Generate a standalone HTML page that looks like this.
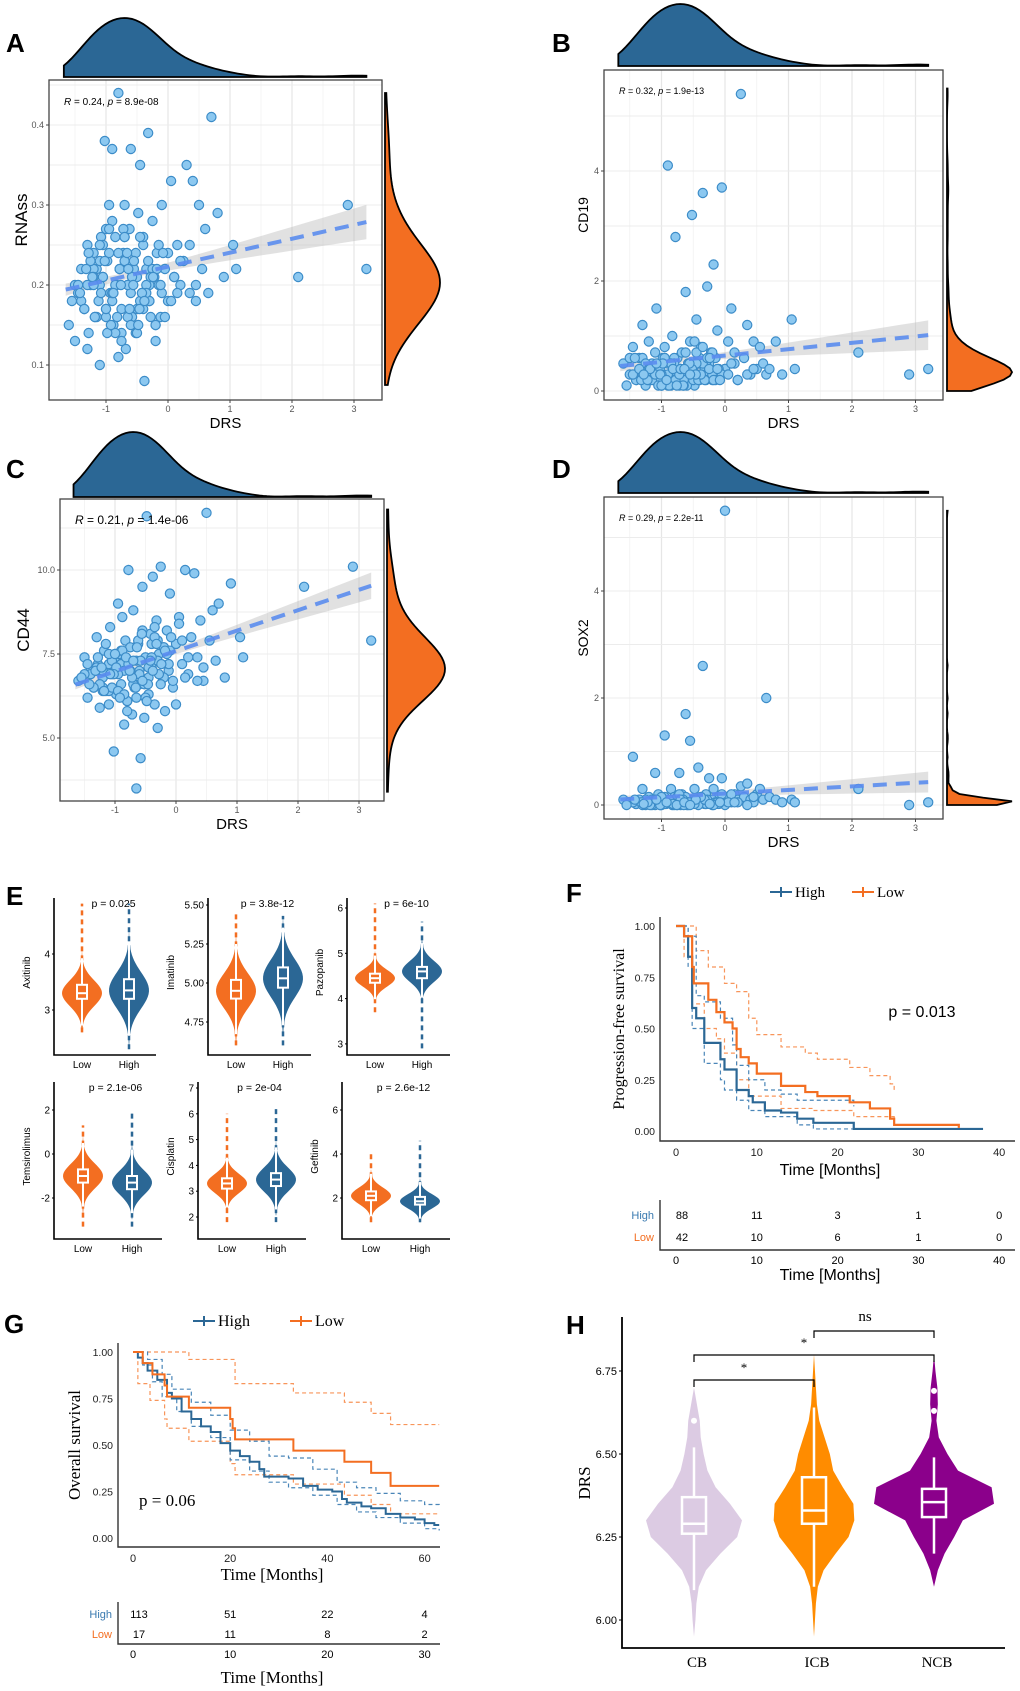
<!DOCTYPE html>
<html><head><meta charset="utf-8"><style>
html,body{margin:0;padding:0;background:#fff;}
svg{display:block;font-family:"Liberation Sans",sans-serif;}
.serif{font-family:"Liberation Serif",serif;}
</style></head><body>
<svg id="fig" width="1020" height="1691" viewBox="0 0 1020 1691"></svg>
<script>
// ---------- DATA ----------
const drsBase=[-1.6,-1.5,-1.45,-1.4,-1.35,-1.3,-1.28,-1.25,-1.2,-1.18,
-1.15,-1.12,-1.1,-1.08,-1.05,-1.02,-1.0,-0.98,-0.95,-0.93,
-0.9,-0.88,-0.85,-0.83,-0.8,-0.78,-0.75,-0.72,-0.7,-0.68,
-0.65,-0.62,-0.6,-0.58,-0.55,-0.52,-0.5,-0.48,-0.45,-0.42,
-0.4,-0.38,-0.35,-0.32,-0.3,-0.28,-0.25,-0.22,-0.2,-0.18,
-0.15,-0.12,-0.1,-0.05,0.0,0.05,0.1,0.15,0.2,0.25,
0.3,0.35,0.4,0.45,0.5,0.55,0.6,0.65,0.7,0.8,
0.9,1.05,1.1,2.1,2.9,3.2,-1.3,-1.1,-0.9,-0.7,
-0.5,-0.3,-1.0,-0.8,-0.6,-0.4,-1.2,-0.2,0.0,-0.9,
-1.4,-1.2,-1.0,-0.8,-0.6,-0.4,-0.2,-1.1,-0.7,-0.3,
-1.3,-0.9,-0.5,-0.1,-1.5,-0.75,-0.35,-1.05,-0.65,-0.25];
const drsExtra=[-1.45,-1.25,-1.15,-0.95,-0.85,-0.55,-0.45,-0.15,0.1,-0.6,
-1.35,-1.05,-0.95,-0.75,-0.65,-0.45,-0.35,-0.05,0.2,-1.2,
-1.55,-1.1,-0.85,-0.78,-0.62,-0.52,-0.42,-0.28,0.05,-0.98,
-1.32,-1.18,-0.88,-0.72,-0.58,-0.48,-0.32,-0.12,0.35,-1.0,
-1.42,-1.22,-1.02,-0.82,-0.66,-0.56,-0.38,-0.18,0.15,-0.7,
-1.28,-1.08,-0.92,-0.76,-0.64,-0.46,-0.24,-0.08,0.45,-0.55];
const rnassBase=[0.15,0.13,0.19,0.22,0.17,0.25,0.14,0.2,0.24,0.16,
0.22,0.18,0.1,0.26,0.21,0.38,0.17,0.23,0.3,0.19,
0.37,0.15,0.26,0.2,0.44,0.22,0.17,0.24,0.3,0.12,
0.2,0.27,0.37,0.16,0.23,0.14,0.21,0.29,0.35,0.19,
0.25,0.08,0.22,0.39,0.18,0.16,0.28,0.21,0.13,0.24,
0.2,0.16,0.3,0.22,0.18,0.33,0.21,0.25,0.2,0.23,
0.35,0.19,0.33,0.18,0.3,0.22,0.27,0.19,0.41,0.29,
0.21,0.25,0.22,0.21,0.3,0.22,0.2,0.23,0.18,0.26,
0.14,0.2,0.27,0.11,0.2,0.17,0.22,0.15,0.24,0.19,
0.18,0.21,0.16,0.24,0.19,0.26,0.15,0.2,0.23,0.18,
0.12,0.28,0.17,0.19,0.2,0.14,0.2,0.25,0.16,0.22];
const rnassExtra=[0.2,0.23,0.16,0.27,0.14,0.22,0.18,0.25,0.21,0.15,
0.17,0.21,0.24,0.13,0.2,0.26,0.19,0.16,0.23,0.2,
0.18,0.25,0.2,0.22,0.17,0.24,0.19,0.21,0.18,0.14,
0.22,0.16,0.19,0.27,0.21,0.15,0.23,0.2,0.25,0.17,
0.19,0.21,0.23,0.16,0.24,0.2,0.18,0.22,0.19,0.26,
0.24,0.19,0.15,0.2,0.22,0.17,0.21,0.24,0.2,0.23];
const cd19Base=[0.5,0.3,0.8,0.2,0.6,1.2,0.4,0.1,0.9,0.3,
0.5,0.2,0.7,1.5,0.3,0.4,0.1,0.6,0.8,0.2,
4.1,0.3,0.5,1.0,0.2,2.8,0.6,0.1,0.4,0.7,
0.3,1.8,0.2,0.5,0.9,3.2,0.4,0.1,1.3,0.6,
0.2,0.8,3.6,0.4,0.3,1.9,0.5,0.7,0.2,2.3,
0.6,1.1,0.3,3.7,0.4,0.9,1.5,0.5,0.2,5.4,
0.6,1.2,0.3,0.9,0.4,0.8,0.5,0.3,0.4,0.9,
0.3,1.3,0.4,0.7,0.3,0.4,0.6,0.2,0.5,0.3,
0.4,0.2,0.1,0.6,0.3,0.5,0.2,0.7,0.4,0.3,
0.2,0.4,0.3,0.5,0.1,0.6,0.3,0.2,0.4,0.5,
0.3,0.1,0.2,0.4,0.6,0.3,0.5,0.2,0.1,0.4];
const cd19Extra=[0.3,0.5,0.2,0.6,0.1,0.4,0.7,0.2,0.5,0.3,
0.4,0.1,0.6,0.3,0.2,0.5,0.8,0.3,0.2,0.4,
0.1,0.3,0.5,0.2,0.7,0.4,0.2,0.6,0.3,0.5,
0.2,0.4,0.1,0.3,0.5,0.9,0.2,0.4,0.3,0.1,
0.6,0.2,0.3,0.4,0.1,0.5,0.3,0.2,0.7,0.4,
0.3,0.5,0.2,0.1,0.4,0.3,0.6,0.2,0.4,0.3];
const cd44Base=[6.7,7.4,6.2,7.0,6.5,8.0,7.2,5.9,6.8,7.6,
6.4,7.1,6.0,8.3,6.9,4.6,7.3,6.3,9.0,7.5,
6.6,8.6,5.4,7.9,6.1,10.0,7.0,5.7,8.8,6.5,
3.5,7.8,6.9,4.4,9.5,5.6,7.4,11.6,6.3,8.1,
7.1,9.8,6.0,8.5,5.3,7.5,10.1,6.8,7.7,5.8,
8.2,7.0,9.3,6.5,7.8,8.6,7.2,10.0,6.9,8.0,
9.9,7.4,8.5,6.7,11.7,7.9,8.8,7.3,9.0,6.8,
9.6,8.0,7.4,9.5,10.1,7.9,7.0,6.4,7.6,6.9,
6.2,7.3,7.1,5.8,6.6,7.8,6.5,7.7,6.0,7.2,
6.9,6.4,7.5,6.1,7.0,7.4,6.8,7.2,6.6,7.9,
7.1,6.3,6.7,7.6,6.9,7.0,8.3,6.5,7.3,6.6];
const cd44Extra=[7.2,6.6,7.8,6.4,7.0,8.2,6.8,7.5,7.9,6.9,
6.5,7.3,6.9,7.7,6.2,7.1,8.0,6.7,7.4,7.0,
6.8,7.5,6.3,7.2,7.9,6.6,7.3,6.9,8.4,7.1,
7.0,6.4,7.6,6.8,7.3,6.1,7.8,7.2,6.7,7.5,
6.6,7.1,6.9,7.4,6.5,8.1,7.0,7.6,6.8,7.3,
7.4,6.9,6.2,7.0,7.7,6.6,7.2,8.0,7.1,6.7];
const sox2Base=[0.1,0.05,0.9,0.02,0.1,0.3,0.05,0.0,0.15,0.05,
0.1,0.02,0.6,0.05,0.2,0.0,0.1,0.05,1.3,0.02,
0.1,0.05,0.3,0.0,0.15,0.05,0.1,0.6,0.02,0.2,
0.05,1.7,0.1,0.0,1.2,0.05,0.1,0.3,0.02,0.7,
0.05,0.1,2.6,0.02,0.2,0.05,0.5,0.1,0.0,0.3,
0.1,0.05,0.15,0.5,5.5,0.1,0.05,0.2,0.1,0.35,
0.15,0.4,0.1,0.05,0.2,0.3,0.1,2.0,0.15,0.1,
0.05,0.1,0.05,0.3,0.0,0.05,0.02,0.1,0.05,0.0,
0.05,0.02,0.1,0.0,0.05,0.1,0.02,0.05,0.0,0.1,
0.02,0.05,0.0,0.1,0.05,0.02,0.1,0.0,0.05,0.02,
0.0,0.05,0.1,0.02,0.05,0.0,0.1,0.05,0.02,0.05];
const sox2Extra=[0.05,0.1,0.0,0.15,0.05,0.02,0.1,0.05,0.2,0.0,
0.1,0.05,0.02,0.15,0.0,0.05,0.1,0.2,0.05,0.02,
0.0,0.1,0.05,0.02,0.15,0.05,0.0,0.1,0.05,0.1,
0.05,0.0,0.1,0.2,0.05,0.02,0.1,0.05,0.0,0.15,
0.1,0.05,0.0,0.02,0.1,0.05,0.15,0.0,0.05,0.1,
0.02,0.1,0.05,0.0,0.05,0.1,0.02,0.05,0.15,0.0];
const drs=drsBase.concat(drsExtra);
const rnass=rnassBase.concat(rnassExtra);
const cd19=cd19Base.concat(cd19Extra);
const cd44=cd44Base.concat(cd44Extra);
const sox2=sox2Base.concat(sox2Extra);
const drsTicks=[-1,0,1,2,3];
const rnassTicks=[0.1,0.2,0.3,0.4];
const cd19Ticks=[0,2,4];
const cd44Ticks=[5.0,7.5,10.0];
const sox2Ticks=[0,2,4];
const corrLabels=["R = 0.24, p = 8.9e-08","R = 0.32, p = 1.9e-13","R = 0.21, p = 1.4e-06","R = 0.29, p = 2.2e-11"];

// Panel E drug sensitivity: [median,q1,q3,min,max] for Low and High
const drugNames=["Axitinib","Imatinib","Pazopanib","Temsirolimus","Cisplatin","Geftinib"];
const drugP=["p = 0.025","p = 3.8e-12","p = 6e-10","p = 2.1e-06","p = 2e-04","p = 2.6e-12"];
const drugLow=[[3.3,3.2,3.45,2.6,4.9],[4.95,4.9,5.02,4.6,5.45],[4.45,4.35,4.55,3.7,6.1],[-1.0,-1.3,-0.7,-3.3,1.3],[3.3,3.1,3.5,1.8,6.0],[2.1,1.9,2.3,0.9,4.0]];
const drugHigh=[[3.35,3.2,3.55,2.3,4.9],[5.03,4.97,5.1,4.6,5.43],[4.6,4.45,4.7,2.9,5.7],[-1.3,-1.6,-1.0,-3.3,2.0],[3.45,3.2,3.7,1.8,6.3],[1.85,1.7,2.05,0.9,4.6]];
const drugTicks=[[3,4],[4.75,5.00,5.25,5.50],[3,4,5,6],[-2,0,2],[2,3,4,5,6,7],[2,4,6]];
const drugTickLabels=[["3","4"],["4.75","5.00","5.25","5.50"],["3","4","5","6"],["-2","0","2"],["2","3","4","5","6","7"],["2","4","6"]];

// Panel F KM (time, survival)
const fHighT=[0,1,1.5,2,2.5,3.5,5.5,6,7.5,9,9.5,11,13,15,17,22,38];
const fHighS=[1,0.95,0.85,0.6,0.55,0.43,0.35,0.3,0.2,0.17,0.14,0.1,0.09,0.06,0.04,0.01,0.01];
const fLowT=[0,1,2,2.2,4,5,6,7,7.5,8,9,10,13,16,17.5,21.5,24,26.5,27,35];
const fLowS=[1,0.95,0.8,0.72,0.64,0.58,0.53,0.5,0.4,0.36,0.33,0.28,0.22,0.19,0.17,0.14,0.11,0.06,0.03,0.015];
const fLowUpT=[0,1.5,2.5,4,6,7.5,9,10,13,16,17.5,21.5,24,26.5,27];
const fLowUpS=[1,1,0.88,0.8,0.72,0.68,0.55,0.47,0.41,0.38,0.35,0.31,0.27,0.23,0.2];
const fLowLoT=[0,1,2,3.5,5,6,7.5,9,13,17,22,27];
const fLowLoS=[1,0.85,0.62,0.5,0.45,0.38,0.25,0.17,0.11,0.1,0.07,0.03];
const fHighUpT=[0,1.5,2.5,3.5,5.5,7,7.5,9,11,13,15,22];
const fHighUpS=[1,0.95,0.66,0.63,0.55,0.42,0.32,0.25,0.2,0.18,0.15,0.12];
const fHighLoT=[0,1.5,2,3.5,5.5,6,7.5,9,11,15,17,22];
const fHighLoS=[1,0.8,0.5,0.33,0.25,0.2,0.15,0.1,0.07,0.03,0.01,0.01];
const fRiskHigh=["88","11","3","1","0"];
const fRiskLow=["42","10","6","1","0"];
const fTicks=[0,10,20,30,40];
const survTicks=[0,0.25,0.5,0.75,1];
const survTickLabels=["0.00","0.25","0.50","0.75","1.00"];

// Panel G KM
const gHighT=[0,1,2,3,5,7,8,10,12,14,16,18,20,22,24,26,27,32,35,38,41,43,44,47,49,52,55,58,60,62,63];
const gHighS=[1,0.97,0.94,0.9,0.85,0.78,0.75,0.68,0.64,0.6,0.57,0.51,0.47,0.44,0.41,0.37,0.33,0.32,0.28,0.26,0.25,0.21,0.19,0.17,0.16,0.13,0.11,0.1,0.08,0.07,0.07];
const gLowT=[0,2,4,6.5,7,11.5,20,20.5,21,33,43.5,49,53,63];
const gLowS=[1,0.94,0.88,0.82,0.76,0.7,0.64,0.59,0.53,0.47,0.41,0.35,0.28,0.28];
const gLowUpT=[0,11.5,20,21,33,43.5,49,53,63];
const gLowUpS=[1,0.96,0.96,0.83,0.78,0.73,0.67,0.61,0.61];
const gLowLoT=[0,1,3.5,6.5,7,11.5,20,21,33,43.5,49,53,63];
const gLowLoS=[1,0.83,0.74,0.64,0.59,0.52,0.4,0.34,0.29,0.23,0.18,0.13,0.13];
const gHighUpT=[0,3,6,8,12,16,20,24,28,32,37,42,46,50,55,60,63];
const gHighUpS=[1,0.96,0.88,0.8,0.73,0.66,0.58,0.52,0.44,0.43,0.37,0.3,0.27,0.24,0.2,0.18,0.17];
const gHighLoT=[0,2,4,6,9,12,16,20,24,28,32,37,42,46,50,55,60,63];
const gHighLoS=[1,0.93,0.84,0.76,0.68,0.6,0.54,0.42,0.36,0.3,0.27,0.23,0.18,0.14,0.11,0.08,0.05,0.04];
const gRiskHigh=["113","51","22","4"];
const gRiskLow=["17","11","8","2"];
const gTicks=[0,20,40,60];
const gRiskTicks=[0,10,20,30];

// Panel H violins
const hGroups=["CB","ICB","NCB"];
const hColors=["#dccbe3","#ff8c00","#8b008b"];
const hLevels=[5.95,6.0,6.05,6.1,6.15,6.2,6.25,6.3,6.35,6.4,6.45,6.5,6.55,6.6,6.65,6.7,6.75,6.8];
const hDensCB=[0,0.03,0.05,0.1,0.25,0.55,0.9,1.0,0.75,0.45,0.28,0.2,0.14,0.12,0.06,0.0,0,0];
const hDensICB=[0,0.02,0.04,0.08,0.2,0.45,0.72,0.84,0.82,0.6,0.4,0.33,0.22,0.11,0.06,0.04,0.02,0];
const hDensNCB=[0,0,0,0,0.08,0.22,0.42,0.6,1.25,1.2,0.5,0.28,0.1,0.05,0.08,0.07,0.03,0];
const hBoxes=[[6.29,6.26,6.37,6.09,6.52],[6.33,6.29,6.43,6.1,6.64],[6.355,6.31,6.395,6.2,6.49]];
const hOutliers=[[6.6],[],[6.63,6.69]];
const hTicks=[6.0,6.25,6.5,6.75];
const hTickLabels=["6.00","6.25","6.50","6.75"];

// ---------- DRAWING ----------
const NS='http://www.w3.org/2000/svg';
const svg=document.getElementById('fig');
function mk(tag,a,p){const e=document.createElementNS(NS,tag);for(const k in a)e.setAttribute(k,a[k]);(p||svg).appendChild(e);return e;}
function txt(s,a,p){const e=mk('text',a,p);e.textContent=s;return e;}
const BLUE='#2b6795',ORANGE='#f36e21';

function letter(s,x,y){const t=txt(s,{x:x,y:y,'font-size':26,'font-weight':'bold'});

}

function kde(arr,bw,v){let s=0;for(const a of arr){const z=(v-a)/bw;s+=Math.exp(-0.5*z*z);}return s;}

function scatterPanel(cfg){
  const g=mk('g',{});
  
  
  const X=v=>cfg.x0+v*cfg.xu, Y=v=>cfg.y0-(v-cfg.yref)*cfg.yu;
  const b=cfg.box;
  const bg=mk('rect',{x:b[0],y:b[1],width:b[2]-b[0],height:b[3]-b[1],fill:'#fff'},g);
  
  
  for(let v=-2;v<=3.5;v+=0.5){const px=X(v);if(px<=b[0]||px>=b[2])continue;
    const l=mk('line',{x1:px,x2:px,y1:b[1],y2:b[3],stroke:Number.isInteger(v)?'#e6e6e6':'#f2f2f2','stroke-width':Number.isInteger(v)?1.2:0.8},g);
    }
  const st=(cfg.ticks[1]-cfg.ticks[0])/2;
  for(let v=cfg.ticks[0]-4*st;v<=cfg.ticks[cfg.ticks.length-1]+4*st;v+=st){const py=Y(v);if(py<=b[1]||py>=b[3])continue;
    const l=mk('line',{x1:b[0],x2:b[2],y1:py,y2:py,stroke:'#ececec','stroke-width':1},g);
    }
  const n=Math.min(drs.length,cfg.y.length);let mx=0,my=0;for(let i=0;i<n;i++){mx+=drs[i];my+=cfg.y[i];}mx/=n;my/=n;
  let sxx=0,sxy=0;for(let i=0;i<n;i++){sxx+=(drs[i]-mx)**2;sxy+=(drs[i]-mx)*(cfg.y[i]-my);}
  const sl=sxy/sxx,ic=my-sl*mx;let sse=0;for(let i=0;i<n;i++)sse+=(cfg.y[i]-ic-sl*drs[i])**2;
  const s=Math.sqrt(sse/(n-2));const xa=-1.65,xb=3.2;
  const se=x=>1.96*s*Math.sqrt(1/n+(x-mx)**2/sxx)*cfg.bandScale;
  let up=[],lo=[];for(let k=0;k<=20;k++){const x=xa+(xb-xa)*k/20;up.push(X(x)+','+Y(ic+sl*x+se(x)));lo.unshift(X(x)+','+Y(ic+sl*x-se(x)));}
  const band=mk('polygon',{points:up.concat(lo).join(' '),fill:'#bdbdbd','fill-opacity':0.45},g);
  
  for(let i=0;i<n;i++){const c=mk('circle',{cx:X(drs[i]),cy:Y(cfg.y[i]),r:4.6,fill:'#8cc8f0',stroke:'#3c8cc8','stroke-width':1.2},g);
    }
  const ln=mk('line',{x1:X(xa),y1:Y(ic+sl*xa),x2:X(xb),y2:Y(ic+sl*xb),stroke:'#5b8def','stroke-width':4,'stroke-dasharray':'14,9',opacity:0.9},g);
  
  const fr=mk('rect',{x:b[0],y:b[1],width:b[2]-b[0],height:b[3]-b[1],fill:'none',stroke:'#444','stroke-width':1.3},g);
  
  for(const v of drsTicks){const t=txt(String(v),{x:X(v),y:b[3]+12,'font-size':9,fill:'#555','text-anchor':'middle'},g);
    
    const tk=mk('line',{x1:X(v),x2:X(v),y1:b[3],y2:b[3]+3,stroke:'#444'},g);}
  for(const v of cfg.ticks){const t=txt(cfg.fmt(v),{x:b[0]-5,y:Y(v)+3,'font-size':9,fill:'#555','text-anchor':'end'},g);
    
    const tk=mk('line',{x1:b[0]-3,x2:b[0],y1:Y(v),y2:Y(v),stroke:'#444'},g);}
  const xt=txt('DRS',{x:(b[0]+b[2])/2+10,y:b[3]+28,'font-size':15,'text-anchor':'middle'},g);
  
  const yt=txt(cfg.ylab,{x:0,y:0,'font-size':cfg.ylabSize,'text-anchor':'middle',transform:`translate(${cfg.ylabX},${(b[1]+b[3])/2-20}) rotate(-90)`},g);
  
  const parts=cfg.label.split(', ');
  const ct=mk('text',{x:b[0]+15,y:b[1]+cfg.labDy,'font-size':cfg.labSize},g);
  ct.innerHTML='<tspan font-style="italic">R</tspan>'+parts[0].slice(1)+', <tspan font-style="italic">p</tspan>'+parts[1].slice(1);
  
  const td=cfg.top;let pts=[],mxd=0,vals=[];
  for(let k=0;k<=80;k++){const v=-1.68+(3.2+1.68)*k/80;const d=kde(drs,0.28,v);vals.push([v,d]);mxd=Math.max(mxd,d);}
  pts=vals.map(([v,d])=>X(v)+','+(td[0]-d/mxd*(td[0]-td[1])));
  const tp=mk('path',{d:'M'+X(-1.68)+','+td[0]+' L'+pts.join(' L')+' L'+X(3.2)+','+td[0]+' Z',fill:BLUE,stroke:'#000','stroke-width':1.8},g);
  
  const rd=cfg.right;vals=[];mxd=0;
  for(let k=0;k<=80;k++){const v=cfg.rlo+(cfg.rhi-cfg.rlo)*k/80;const d=kde(cfg.y,cfg.rbw,v);vals.push([v,d]);mxd=Math.max(mxd,d);}
  pts=vals.map(([v,d])=>(rd[0]+d/mxd*(rd[1]-rd[0]))+','+Y(v));
  const rp=mk('path',{d:'M'+rd[0]+','+Y(cfg.rlo)+' L'+pts.join(' L')+' L'+rd[0]+','+Y(cfg.rhi)+' Z',fill:ORANGE,stroke:'#000','stroke-width':1.8},g);
  
}

scatterPanel({name:'panel-a-rnass',box:[49,80,382,400],x0:168,xu:62,y0:285,yref:0.2,yu:800,y:rnass,ticks:rnassTicks,fmt:v=>String(v),
  ylab:'RNAss',ylabX:27,ylabSize:17,label:corrLabels[0],labDy:25,labSize:10,bandScale:0.47,top:[77,18],right:[385,440],rlo:0.075,rhi:0.44,rbw:0.03});
scatterPanel({name:'panel-b-cd19',box:[604,70,943,400],x0:725,xu:63.5,y0:391,yref:0,yu:55,y:cd19,ticks:cd19Ticks,fmt:v=>String(v),
  ylab:'CD19',ylabX:588,ylabSize:14,label:corrLabels[1],labDy:24,labSize:9,bandScale:0.47,top:[66,4],right:[947,1012],rlo:0,rhi:5.5,rbw:0.18});
scatterPanel({name:'panel-c-cd44',box:[60,499,384,801],x0:176,xu:61,y0:654,yref:7.5,yu:33.6,y:cd44,ticks:cd44Ticks,fmt:v=>v.toFixed(1),
  ylab:'CD44',ylabX:29,ylabSize:17,label:corrLabels[2],labDy:25,labSize:12,bandScale:0.47,top:[497,432],right:[387,445],rlo:3.4,rhi:11.8,rbw:0.7});
scatterPanel({name:'panel-d-sox2',box:[604,497,943,819],x0:725,xu:63.5,y0:805,yref:0,yu:53.5,y:sox2,ticks:sox2Ticks,fmt:v=>String(v),
  ylab:'SOX2',ylabX:588,ylabSize:14,label:corrLabels[3],labDy:24,labSize:9,bandScale:0.47,top:[493,432],right:[947,1012],rlo:0,rhi:5.5,rbw:0.05});
letter('A',6,52);letter('B',552,52);letter('C',6,478);letter('D',552,478);

// ---------- Panel E ----------
letter('E',6,905);
const eAx=[[54,898,1055,156,82,129],[208,898,1055,311,236,283],[347,898,1055,450,375,422],[54,1082,1239,162,83,132],[198,1082,1239,306,227,276],[342,1082,1239,450,371,420]];
const eScale=[[4,954,56],[5.5,905,156],[6,908,45.3],[2,1110,22],[7,1088,25.8],[6,1110,22]];
for(let i=0;i<6;i++){
  const [ax,top,bot,right,xl,xh]=eAx[i];const [rv,rp,u]=eScale[i];const Y=v=>rp-(v-rv)*u;
  const g=mk('g',{});
  [[drugLow[i],xl,ORANGE],[drugHigh[i],xh,BLUE]].forEach(([d,cx,col],gi)=>{
    const [med,q1,q3,mn,mx]=d;const sd=(q3-q1)/1.35*1.25;const lo=Math.max(mn,med-3*sd),hi=Math.min(mx,med+3.2*sd);
    const wl=mk('line',{x1:cx,x2:cx,y1:Y(mn),y2:Y(mx),stroke:col,'stroke-width':2.5,'stroke-dasharray':'5,4'},g);
    
    let L=[],R=[];for(let k=0;k<=40;k++){const v=lo+(hi-lo)*k/40;const w=20*Math.exp(-0.5*((v-med)/sd)**2);L.push((cx-w)+','+Y(v));R.unshift((cx+w)+','+Y(v));}
    const vp=mk('polygon',{points:L.concat(R).join(' '),fill:col},g);
    
    const wk=mk('line',{x1:cx,x2:cx,y1:Y(lo+sd*0.5),y2:Y(hi-sd*0.5),stroke:'#fff','stroke-width':2},g);
    
    const bx=mk('rect',{x:cx-5,y:Y(q3),width:10,height:Y(q1)-Y(q3),fill:col,stroke:'#fff','stroke-width':2},g);
    
    const md=mk('line',{x1:cx-5,x2:cx+5,y1:Y(med),y2:Y(med),stroke:'#fff','stroke-width':2},g);
    
  });
  const ax1=mk('path',{d:`M${ax},${top} V${bot} H${right}`,fill:'none',stroke:'#000','stroke-width':1.6},g);
  
  drugTicks[i].forEach((v,k)=>{const t=txt(drugTickLabels[i][k],{x:ax-4,y:Y(v)+3.5,'font-size':10,'text-anchor':'end'},g);
    
    const tk=mk('line',{x1:ax-2,x2:ax,y1:Y(v),y2:Y(v),stroke:'#000'},g);});
  const lt=txt('Low',{x:xl,y:bot+13,'font-size':10,'text-anchor':'middle'},g);
  const ht=txt('High',{x:xh,y:bot+13,'font-size':10,'text-anchor':'middle'},g);
  const pt=txt(drugP[i],{x:(xl+xh)/2+8,y:top+9,'font-size':10.5,'text-anchor':'middle'},g);
  const labX=ax-(drugTickLabels[i][0].length>2?34:24);
  const yl=txt(drugNames[i],{x:0,y:0,'font-size':10,'text-anchor':'middle',transform:`translate(${labX},${(top+bot)/2-4}) rotate(-90)`},g);
  
}

// ---------- KM helper ----------
function km(g,T,S,X,Y,col,dash,w,name){let d=`M${X(T[0])},${Y(S[0])}`;for(let i=1;i<T.length;i++){d+=` H${X(T[i])} V${Y(S[i])}`;}
  const p=mk('path',{d:d,fill:'none',stroke:col,'stroke-width':w,'stroke-dasharray':dash||'none'},g);
  }
function kmAxes(g,ax,top,bot,right,X,Y,xt,yl,ylx,ysize){
  const a=mk('path',{d:`M${ax},${top} V${bot} H${right}`,fill:'none',stroke:'#333','stroke-width':1.4},g);
  
  xt.forEach(v=>{const t=txt(String(v),{x:X(v),y:bot+15,'font-size':11,'text-anchor':'middle',fill:'#222'},g);
    });
  survTicks.forEach((v,k)=>{const t=txt(survTickLabels[k],{x:ax-5,y:Y(v)+4,'font-size':10.5,'text-anchor':'end',fill:'#222'},g);
    });
  const yt=txt(yl,{x:0,y:0,'font-size':ysize,'text-anchor':'middle',class:'serif',transform:`translate(${ylx},${(top+bot)/2}) rotate(-90)`},g);
  
}
function legend(g,x1,x2,y,size){
  const l1=mk('path',{d:`M${x1-12},${y} h22 M${x1-1},${y-5} v10`,stroke:BLUE,'stroke-width':2},g);
  const t1=txt('High',{x:x1+13,y:y+5,'font-size':size,class:'serif'},g);
  const l2=mk('path',{d:`M${x2-12},${y} h22 M${x2-1},${y-5} v10`,stroke:ORANGE,'stroke-width':2},g);
  const t2=txt('Low',{x:x2+13,y:y+5,'font-size':size,class:'serif'},g);
}
function riskTable(g,ax,top,bot,right,X,ticks,hi,lo,yh,yl){
  const a=mk('path',{d:`M${ax},${top} V${bot} H${right}`,fill:'none',stroke:'#333','stroke-width':1.4},g);
  
  const h=txt('High',{x:ax-6,y:yh+4,'font-size':11,'text-anchor':'end',fill:'#3a7ab0'},g);
  const l=txt('Low',{x:ax-6,y:yl+4,'font-size':11,'text-anchor':'end',fill:ORANGE},g);
  ticks.forEach((v,k)=>{const a1=txt(hi[k],{x:X(v)+(k===0?6:0),y:yh+4,'font-size':11,'text-anchor':'middle'},g);
    const a2=txt(lo[k],{x:X(v)+(k===0?6:0),y:yl+4,'font-size':11,'text-anchor':'middle'},g);
    const t=txt(String(v),{x:X(v),y:bot+14,'font-size':11,'text-anchor':'middle'},g);});
}

// ---------- Panel F ----------
letter('F',566,902);
{const g=mk('g',{});
 const X=v=>676+v*8.08,Y=v=>1131-v*205;
 legend(g,782,864,892,15);
 km(g,fLowUpT,fLowUpS,X,Y,'#f8955a','4,3',1.2,'ci-low-upper');km(g,fLowLoT,fLowLoS,X,Y,'#f8955a','4,3',1.2,'ci-low-lower');
 km(g,fHighUpT,fHighUpS,X,Y,'#4a86b8','4,3',1.2,'ci-high-upper');km(g,fHighLoT,fHighLoS,X,Y,'#4a86b8','4,3',1.2,'ci-high-lower');
 km(g,fHighT,fHighS,X,Y,BLUE,null,2.2,'km-curve-high');km(g,fLowT,fLowS,X,Y,ORANGE,null,2.2,'km-curve-low');
 kmAxes(g,660,917,1141,1015,X,Y,fTicks,'Progression-free survival',624,16);
 const p=txt('p = 0.013',{x:922,y:1017,'font-size':16,'text-anchor':'middle'},g);
 const xt=txt('Time [Months]',{x:830,y:1175,'font-size':16,'text-anchor':'middle'},g);
 riskTable(g,660,1200,1250,1015,X,fTicks,fRiskHigh,fRiskLow,1215,1237);
 const xt2=txt('Time [Months]',{x:830,y:1280,'font-size':16,'text-anchor':'middle'},g);
}

// ---------- Panel G ----------
letter('G',4,1333);
{const g=mk('g',{});
 const X=v=>133+v*4.86,Y=v=>1538-v*186;
 legend(g,205,302,1321,16);
 km(g,gLowUpT,gLowUpS,X,Y,'#f8955a','4,3',1.2,'ci-low-upper');km(g,gLowLoT,gLowLoS,X,Y,'#f8955a','4,3',1.2,'ci-low-lower');
 km(g,gHighUpT,gHighUpS,X,Y,'#4a86b8','4,3',1.2,'ci-high-upper');km(g,gHighLoT,gHighLoS,X,Y,'#4a86b8','4,3',1.2,'ci-high-lower');
 km(g,gHighT,gHighS,X,Y,BLUE,null,2,'km-curve-high');km(g,gLowT,gLowS,X,Y,ORANGE,null,2,'km-curve-low');
 kmAxes(g,118,1343,1547,440,X,Y,gTicks,'Overall survival',80,17);
 const p=txt('p = 0.06',{x:139,y:1506,'font-size':17,class:'serif'},g);
 const xt=txt('Time [Months]',{x:272,y:1580,'font-size':17,'text-anchor':'middle',class:'serif'},g);
 const RX=v=>133+v*9.72;
 riskTable(g,118,1602,1644,440,RX,gRiskTicks,gRiskHigh,gRiskLow,1614,1634);
 const xt2=txt('Time [Months]',{x:272,y:1683,'font-size':17,'text-anchor':'middle',class:'serif'},g);
}

// ---------- Panel H ----------
letter('H',566,1334);
{const g=mk('g',{});
 const Y=v=>1620-(v-6.0)*332;const cxs=[694,814,934];const dens=[hDensCB,hDensICB,hDensNCB];
 hGroups.forEach((nm,i)=>{const cx=cxs[i];let L=[],R=[];
   hLevels.forEach((lv,k)=>{const w=dens[i][k]*48;L.push((cx-w)+','+Y(lv));R.unshift((cx+w)+','+Y(lv));});
   const vp=mk('polygon',{points:L.concat(R).join(' '),fill:hColors[i],'stroke-linejoin':'round'},g);
   
   const [med,q1,q3,mn,mx]=hBoxes[i];
   const wl=mk('line',{x1:cx,x2:cx,y1:Y(mn),y2:Y(mx),stroke:'#fff','stroke-width':2.5},g);
   const bx=mk('rect',{x:cx-12,y:Y(q3),width:24,height:Y(q1)-Y(q3),fill:hColors[i],stroke:'#fff','stroke-width':2.5},g);
   const md=mk('line',{x1:cx-12,x2:cx+12,y1:Y(med),y2:Y(med),stroke:'#fff','stroke-width':2.5},g);
   hOutliers[i].forEach(o=>{const c=mk('circle',{cx:cx,cy:Y(o),r:3,fill:'#fff'},g);});
   const t=txt(nm,{x:cx+3,y:1667,'font-size':15,'text-anchor':'middle',class:'serif'},g);
 });
 const a=mk('path',{d:'M622,1317 V1648 H1005',fill:'none',stroke:'#000','stroke-width':1.8},g);
 hTicks.forEach((v,k)=>{const t=txt(hTickLabels[k],{x:617,y:Y(v)+4,'font-size':11,'text-anchor':'end'},g);
   const tk=mk('line',{x1:619,x2:622,y1:Y(v),y2:Y(v),stroke:'#000'},g);});
 const yt=txt('DRS',{x:0,y:0,'font-size':17,'text-anchor':'middle',class:'serif',transform:'translate(590,1483) rotate(-90)'},g);
 const br=[[694,814,1380,'*',744,1372],[694,934,1355,'*',804,1347],[814,934,1331,'ns',865,1321]];
 br.forEach(([x1,x2,y,s,tx,ty])=>{const p=mk('path',{d:`M${x1},${y+7} V${y} H${x2} V${y+7}`,fill:'none',stroke:'#000','stroke-width':1.2},g);
   
   const t=txt(s,{x:tx,y:ty,'font-size':s==='ns'?15:13,'text-anchor':'middle',class:'serif'},g);});
}
</script>
</body></html>
